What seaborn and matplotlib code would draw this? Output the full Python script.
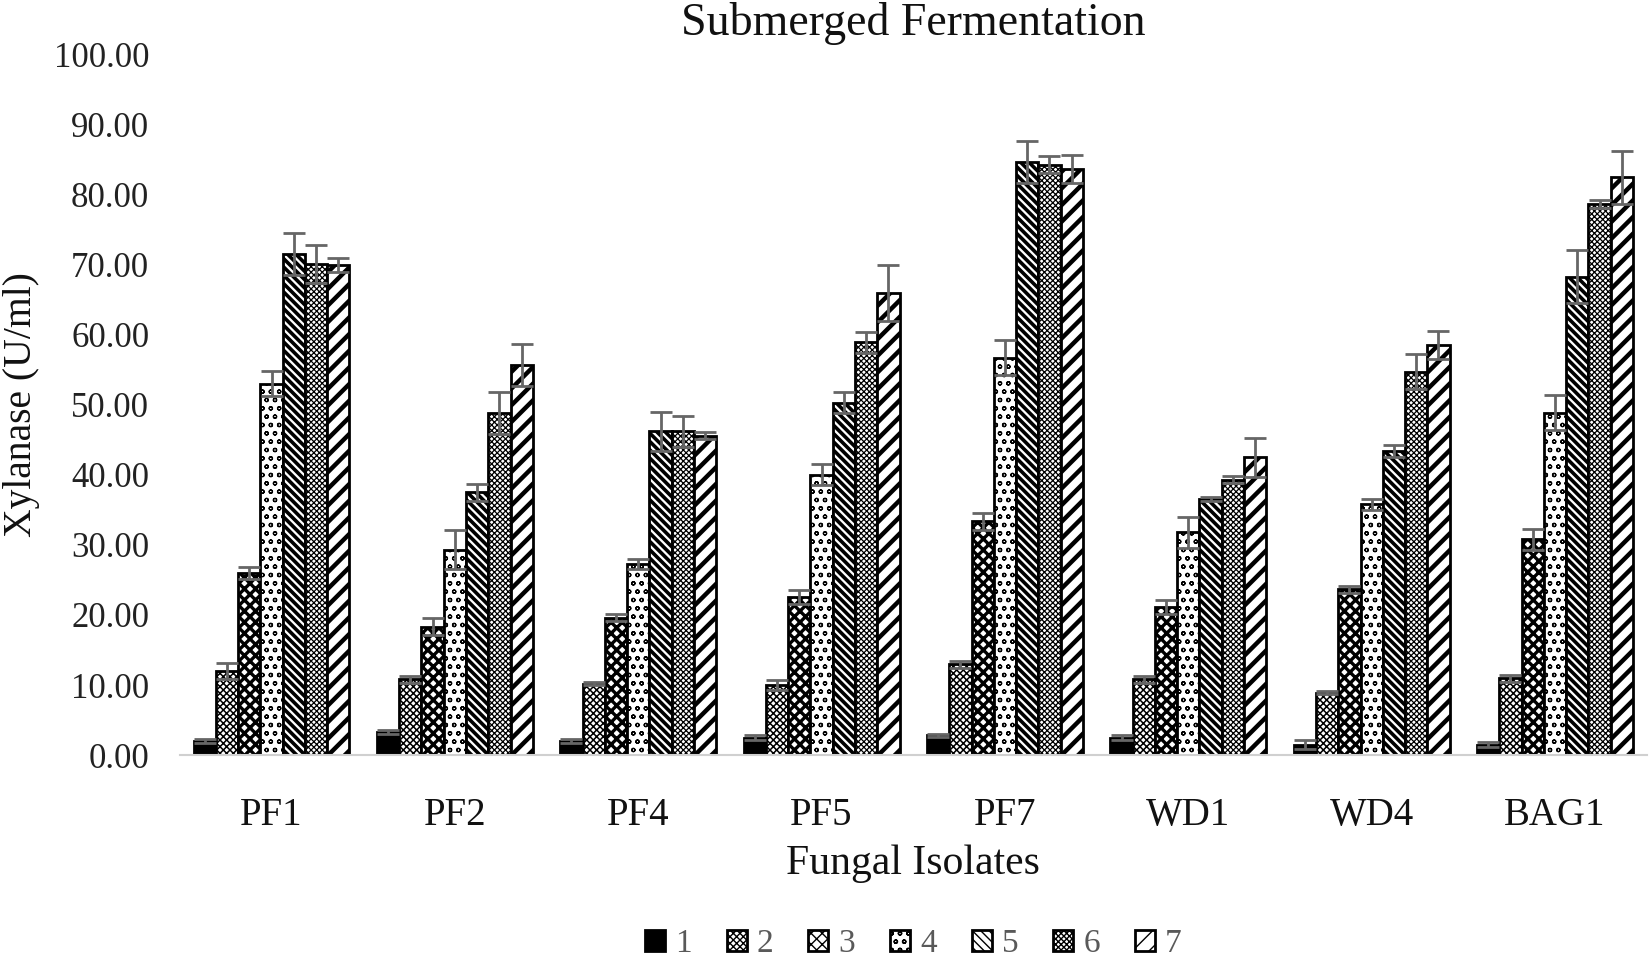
import numpy as np
import pandas as pd
import matplotlib
matplotlib.use("Agg")
import matplotlib.pyplot as plt
import seaborn as sns
from matplotlib.ticker import FormatStrFormatter, FixedLocator

isolates = ["PF1", "PF2", "PF4", "PF5", "PF7", "WD1", "WD4", "BAG1"]
days = ["1", "2", "3", "4", "5", "6", "7"]

# xylanase activity (U/ml), one list per isolate, days 1..7
pf1 = [2.0, 12.0, 26.0, 53.0, 71.5, 70.1, 70.0]
pf2 = [3.3, 10.8, 18.3, 29.3, 37.5, 48.8, 55.7]
pf4 = [2.0, 10.2, 19.6, 27.3, 46.2, 46.2, 45.6]
pf5 = [2.5, 10.0, 22.6, 40.0, 50.3, 58.9, 65.9]
pf7 = [2.8, 13.0, 33.4, 56.7, 84.7, 84.3, 83.7]
wd1 = [2.5, 10.8, 21.2, 31.8, 36.5, 39.3, 42.5]
wd4 = [1.5, 8.9, 23.7, 35.8, 43.4, 54.7, 58.6]
bag1 = [1.5, 11.0, 30.8, 48.9, 68.3, 78.7, 82.5]

# standard deviations
pf1_sd = [0.3, 1.2, 0.8, 1.8, 3.0, 2.7, 1.0]
pf2_sd = [0.3, 0.5, 1.2, 2.8, 1.2, 3.0, 3.0]
pf4_sd = [0.3, 0.2, 0.5, 0.7, 2.8, 2.2, 0.5]
pf5_sd = [0.3, 0.7, 1.0, 1.5, 1.5, 1.5, 4.0]
pf7_sd = [0.2, 0.5, 1.2, 2.5, 3.0, 1.2, 2.0]
wd1_sd = [0.3, 0.5, 1.0, 2.2, 0.3, 0.5, 2.8]
wd4_sd = [0.7, 0.2, 0.5, 0.8, 0.8, 2.5, 2.0]
bag1_sd = [0.3, 0.5, 1.5, 2.5, 3.8, 0.6, 3.8]

means = [pf1, pf2, pf4, pf5, pf7, wd1, wd4, bag1]
sds = [pf1_sd, pf2_sd, pf4_sd, pf5_sd, pf7_sd, wd1_sd, wd4_sd, bag1_sd]

rows = []
for iso, m, s in zip(isolates, means, sds):
    for d, v, e in zip(days, m, s):
        rows.append({"isolate": iso, "day": d, "xylanase": v, "sd": e})
df = pd.DataFrame(rows)

sns.set_theme(style="white")
plt.rcParams["font.family"] = ["Liberation Serif", "DejaVu Serif"]

# face colour, hatch, hatch line width for each day
styles = {
    "1": ("black", "", 1.0),
    "2": ("white", "xxxxx", 1.1),
    "3": ("white", "xxx", 2.4),
    "4": ("white", "oo", 0.9),
    "5": ("white", "\\\\\\\\", 2.6),
    "6": ("white", "xxxxxx", 0.9),
    "7": ("white", "//", 3.2),
}

fig, ax = plt.subplots(figsize=(16.5, 9.57), dpi=100)
fig.subplots_adjust(left=0.109, right=0.998, top=0.943, bottom=0.211)

sns.barplot(
    data=df, x="isolate", y="xylanase", hue="day", order=isolates,
    hue_order=days, errorbar=None, width=0.85, gap=0,
    palette=["white"] * 7, edgecolor="black", linewidth=2, ax=ax,
    legend=False,
)

n = len(isolates)
for j, d in enumerate(days):
    face, hatch, hlw = styles[d]
    bars = ax.containers[j]
    for bar in bars:
        bar.set_facecolor(face)
        bar.set_hatch(hatch)
        try:
            bar.set_hatch_linewidth(hlw)
        except AttributeError:
            pass
    xs = [b.get_x() + b.get_width() / 2 for b in bars]
    ys = [b.get_height() for b in bars]
    sub = df[df["day"] == d].set_index("isolate").loc[isolates]
    ax.errorbar(xs, ys, yerr=sub["sd"].values, fmt="none", ecolor="#666666",
                elinewidth=2, capsize=8, capthick=2, zorder=5)

ax.set_ylim(0, 100)
ax.set_xlim(-0.5, n - 0.5)
ax.set_yticks(np.arange(0, 101, 10))
ax.yaxis.set_major_formatter(FormatStrFormatter("%.2f"))
ax.tick_params(axis="y", labelsize=25, length=0, pad=22, colors="#222222")
ax.tick_params(axis="x", which="major", labelsize=28, length=0, pad=30,
               colors="#111111")
ax.xaxis.set_minor_locator(FixedLocator(np.arange(-0.5, n, 1)))
ax.tick_params(axis="x", which="minor", length=12, width=1.5,
               color="#d0d0d0")

for side in ["top", "right", "left"]:
    ax.spines[side].set_visible(False)
ax.spines["bottom"].set_color("#d0d0d0")
ax.spines["bottom"].set_linewidth(1.5)

ax.set_title("Submerged Fermentation", fontsize=33, pad=14, color="#111111")
ax.set_xlabel("Fungal Isolates", fontsize=30, labelpad=8, color="#111111")
ax.set_ylabel("Xylanase (U/ml)", fontsize=28.5, labelpad=10, color="#111111")

handles = [ax.containers[j][0] for j in range(len(days))]
leg = ax.legend(handles, days, loc="lower center", bbox_to_anchor=(0.5, -0.31),
                ncol=7, frameon=False, fontsize=24, handlelength=0.6,
                handleheight=0.6, columnspacing=1.05, handletextpad=0.3,
                borderaxespad=0)
for t in leg.get_texts():
    t.set_color("#595959")

fig.savefig("out.png", dpi=100)
